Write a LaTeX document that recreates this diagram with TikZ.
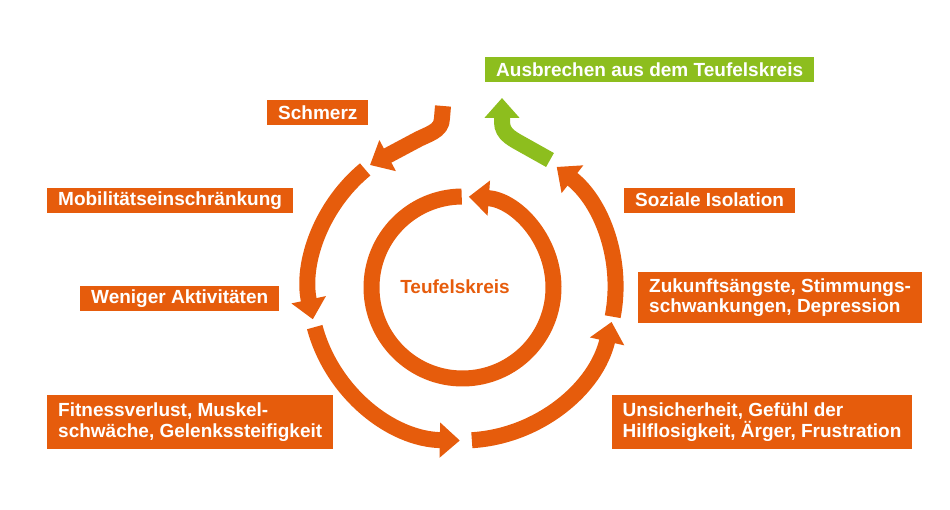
\documentclass[tikz,border=0pt]{standalone}
\usepackage{fontspec}
\setmainfont{Liberation Sans}
\usepackage{xcolor}
\usepackage{tikz}
\usetikzlibrary{arrows.meta, positioning}
\definecolor{kreisorange}{RGB}{230,92,12}
\definecolor{kreisgruen}{RGB}{141,190,30}

\begin{document}
\begin{tikzpicture}[x=1pt, y=1pt,
    box/.style={fill=kreisorange, text=white, anchor=north west, align=left,
        font=\bfseries\fontsize{19}{20.7}\selectfont,
        inner xsep=11pt, inner ysep=0pt, minimum height=25pt},
    pfeil/.style={draw=kreisorange, line width=16pt,
        -{Triangle[length=20pt, width=34pt]}}]
    \useasboundingbox (0,0) rectangle (950,-510);
    \coordinate (c) at (462.5,-287.5);

    % 1. Innerer Kreis
    \draw[pfeil] ([shift={(90.5:91)}]c) arc[start angle=90.5, end angle=446, radius=91];
    \node[text=kreisorange, font=\bfseries\fontsize{19}{20.7}\selectfont] (mitte) at (455,-287) {Teufelskreis};

    % 2. Äußerer Kreis
    \foreach \a/\b in {129.5/192, 195/269, 273.5/347, 349/412} {
        \draw[pfeil] ([shift={(\a:153)}]c) arc[start angle=\a, end angle=\b, radius=153];
    }

    % 3. Einstieg und Ausstieg
    \draw[pfeil] (443,-106) -- (442,-118) to[out=-90, in=30] (415,-141) -- (370,-165);
    \draw[pfeil, draw=kreisgruen] (550,-160) -- (525,-146) to[out=150, in=-90] (502,-122) -- (502,-98);

    % 4. Beschriftungen
    \node[box, fill=kreisgruen] (ausbruch) at (485,-57) {Ausbrechen aus dem Teufelskreis};
    \node[box] (schmerz) at (267,-100) {Schmerz};
    \node[box] (mobil) at (47,-187.5) {Mobilitätseinschränkung};
    \node[box] (isolation) at (624,-187.5) {Soziale Isolation};
    \node[box] (weniger) at (80,-285.5) {Weniger Aktivitäten};
    \node[box, minimum height=51pt] (zukunft) at (638,-272) {Zukunftsängste, Stimmungs-\\schwankungen, Depression};
    \node[box, minimum height=54pt] (fitness) at (47,-395) {Fitnessverlust, Muskel-\\schwäche, Gelenkssteifigkeit};
    \node[box, minimum height=54pt] (unsicher) at (611.5,-395) {Unsicherheit, Gefühl der\\Hilflosigkeit, Ärger, Frustration};
\end{tikzpicture}
\end{document}
